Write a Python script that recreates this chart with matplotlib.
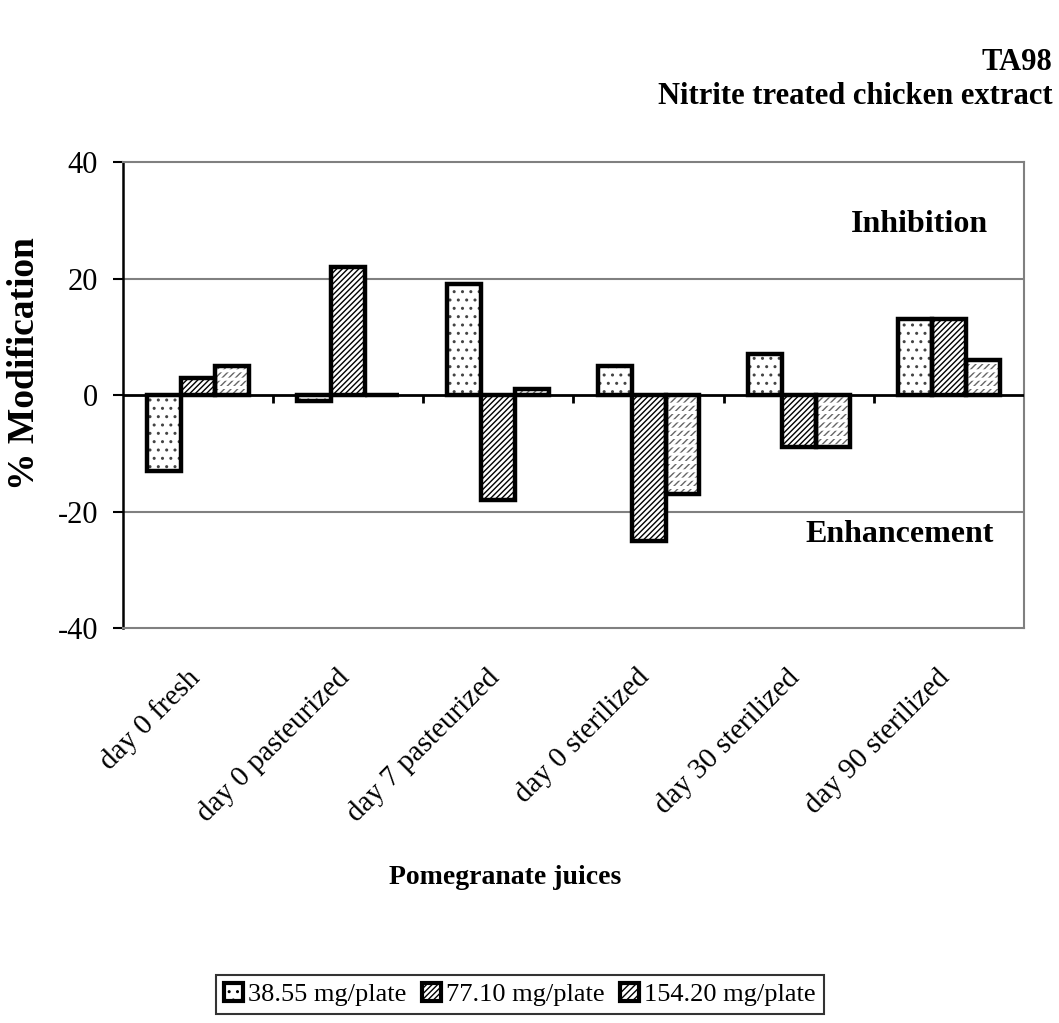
import matplotlib.pyplot as plt
import matplotlib.transforms as mtransforms
import numpy as np

plt.rcParams["font.family"] = ["Liberation Serif", "DejaVu Serif"]
plt.rcParams["axes.unicode_minus"] = False
plt.rcParams["hatch.linewidth"] = 1.0

juices = ["day 0 fresh", "day 0 pasteurized", "day 7 pasteurized",
          "day 0 sterilized", "day 30 sterilized", "day 90 sterilized"]
doses = ["38.55 mg/plate", "77.10 mg/plate", "154.20 mg/plate"]
mod_38 = [-13, -1, 19, 5, 7, 13]
mod_77 = [3, 22, -18, -25, -9, 13]
mod_154 = [5, 0, 1, -17, -9, 6]

series = [mod_38, mod_77, mod_154]
hatches = ["..", "//////", "/////"]
hatch_colors = ["#444444", "black", "#666666"]

fig = plt.figure(figsize=(10.59, 10.23), dpi=100)
ax = fig.add_axes([0.1161, 0.3861, 0.8508, 0.4555])

x = np.arange(len(juices))
w = 0.226
handles = []
for i, vals in enumerate(series):
    pos = x + (i - 1) * w
    # hatch fill first, then a heavy black outline on top
    ax.bar(pos, vals, w, color="white", edgecolor=hatch_colors[i],
           hatch=hatches[i], linewidth=0, zorder=3)
    if i == 2:
        # white bands break the diagonals into short dashes
        with plt.rc_context({"hatch.linewidth": 2.2}):
            ax.bar(pos, vals, w, fill=False, edgecolor="white", hatch="--",
                   linewidth=0, zorder=3.5)
    ax.bar(pos, vals, w, fill=False, edgecolor="black", linewidth=3.2, zorder=4)
    h = plt.Rectangle((0, 0), 1, 1, facecolor="white", edgecolor="black",
                      hatch=hatches[i], linewidth=3)
    handles.append(h)

ax.set_xlim(-0.5, len(juices) - 0.5)
ax.set_ylim(-40, 40)
ax.set_yticks([-40, -20, 0, 20, 40])
ax.tick_params(axis="y", labelsize=22, length=7, width=1.5, direction="out",
               pad=11)
ax.set_xticks(x)
ax.set_xticklabels(juices, rotation=45, ha="right", rotation_mode="anchor",
                   fontsize=21)
ax.tick_params(axis="x", length=0, pad=14)
shift = mtransforms.ScaledTranslation(-0.12, -0.17, fig.dpi_scale_trans)
for lbl in ax.get_xticklabels():
    lbl.set_transform(lbl.get_transform() + shift)

for s in ["top", "right", "bottom"]:
    ax.spines[s].set_color("#808080")
    ax.spines[s].set_linewidth(1.5)
ax.spines["left"].set_linewidth(1.8)
for yv in [20, -20]:
    ax.axhline(yv, color="#808080", linewidth=1.5, zorder=1)

# zero line with category divider ticks
ax.axhline(0, color="black", linewidth=2, zorder=5)
ax.vlines(x[:-1] + 0.5, -1.3, 0, color="black", linewidth=2, zorder=5)

ax.text(0.96, 0.865, "Inhibition", transform=ax.transAxes, ha="right",
        va="center", fontsize=23, fontweight="bold")
ax.text(0.966, 0.2, "Enhancement", transform=ax.transAxes, ha="right",
        va="center", fontsize=23, fontweight="bold")

fig.text(0.023, 0.645, "% Modification", rotation=90, ha="center",
         va="center", fontsize=27, fontweight="bold")
fig.text(0.477, 0.142, "Pomegranate juices", ha="center", va="center",
         fontsize=20, fontweight="bold")
fig.text(0.994, 0.939, "TA98", ha="right", va="center", fontsize=22,
         fontweight="bold")
fig.text(0.994, 0.906, "Nitrite treated chicken extract", ha="right",
         va="center", fontsize=22, fontweight="bold")

leg = fig.legend(handles, doses, loc="center", bbox_to_anchor=(0.491, 0.028),
                 ncol=3, fontsize=19, frameon=True, fancybox=False,
                 handlelength=0.7, handleheight=0.7, handletextpad=0.2,
                 columnspacing=0.6, borderpad=0.3, borderaxespad=0)
leg.get_frame().set_edgecolor("black")
leg.get_frame().set_linewidth(1.5)

fig.savefig("out.png", dpi=100)
